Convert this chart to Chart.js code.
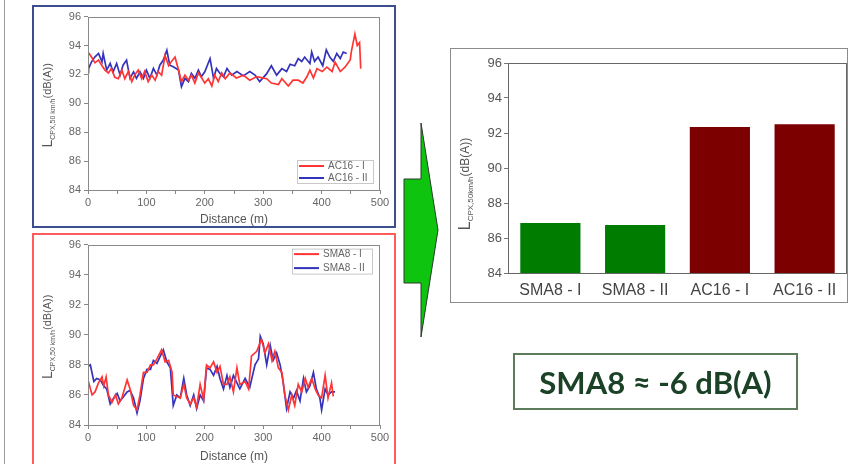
<!DOCTYPE html>
<html>
<head>
<meta charset="utf-8">
<script src="https://cdn.jsdelivr.net/npm/chart.js@4.4.0/dist/chart.umd.min.js"></script>
<style>
  html, body { margin: 0; padding: 0; background: #fff; overflow: hidden; }
  body { width: 859px; height: 464px; position: relative; font-family: Arial, "Liberation Sans", sans-serif; }
  .abs { position: absolute; box-sizing: border-box; }
  canvas { position: absolute; }
</style>
</head>
<body>
<div class="abs" style="left:4px;top:0;width:1px;height:464px;background:#9a9a9a"></div>

<canvas id="acChart" width="360" height="220" style="left:34px;top:7px"></canvas>
<canvas id="smaChart" width="360" height="229" style="left:34px;top:235px"></canvas>
<canvas id="barChart" width="398" height="253" style="left:451px;top:49px"></canvas>

<div class="abs" style="left:32px;top:5px;width:364px;height:223px;border:2px solid #3d4e8e"></div>
<div class="abs" style="left:32px;top:233px;width:364px;height:250px;border:2px solid #ff5c5c"></div>
<div class="abs" style="left:450px;top:48px;width:398px;height:255px;border:1px solid #8c8c8c"></div>

<svg class="abs" style="left:0;top:0" width="859" height="464">
  <polygon points="404,179 421,179 421,123 438,230 421,337 421,283 404,283" fill="#0fc40f" stroke="#2a3a2a" stroke-width="1"></polygon>
</svg>

<div class="abs" style="left:513px;top:353px;width:285px;height:57px;border:2px solid #5c7c5c;display:flex;align-items:center;justify-content:center;font-family:Lato, 'Open Sans', sans-serif;font-weight:bold;font-size:31px;color:#1b4226">SMA8 ≈ -6 dB(A)</div>

<script>
// AC16 runs (top panel)
const acDist1 = [0, 6, 12, 18, 24, 29, 35, 40, 46, 52, 58, 63, 69, 75, 80, 86, 92, 97, 103, 109, 115, 120, 126, 132, 138, 143, 149, 155, 160, 166, 172, 177, 183, 189, 194, 200, 206, 212, 217, 223, 229, 235, 243, 254, 266, 277, 289, 306, 314, 326, 332, 343, 351, 360, 368, 375, 380, 386, 392, 401, 409, 418, 423, 432, 440, 449, 451, 457, 461, 465, 467]
const acLevel1 = [93.56, 93.2, 92.8, 93.0, 92.6, 92.3, 92.1, 92.4, 91.8, 91.7, 92.3, 91.7, 92.2, 91.5, 91.95, 92.3, 91.7, 92.2, 91.5, 91.95, 91.6, 92.2, 91.95, 93.3, 92.6, 92.9, 93.2, 92.3, 91.5, 91.95, 91.6, 91.95, 91.4, 92.1, 91.8, 91.4, 91.7, 91.2, 91.95, 91.5, 92.1, 91.7, 92.1, 91.75, 91.95, 91.6, 91.85, 91.7, 91.4, 91.3, 91.7, 91.2, 91.6, 91.6, 91.4, 91.85, 92.3, 91.75, 92.4, 92.2, 92.5, 92.2, 92.85, 92.2, 92.5, 93.0, 93.6, 94.8, 94.0, 94.2, 92.4]
const acDist2 = [0, 1, 6, 12, 18, 24, 26, 32, 38, 43, 49, 55, 60, 66, 72, 78, 83, 89, 95, 100, 106, 112, 118, 123, 129, 135, 140, 146, 155, 160, 166, 172, 177, 183, 189, 194, 200, 209, 215, 220, 226, 232, 238, 246, 255, 266, 277, 286, 294, 306, 314, 323, 332, 340, 346, 354, 360, 366, 371, 380, 383, 388, 394, 402, 408, 414, 420, 426, 432, 437, 443]
const acLevel2 = [92.53, 92.41, 92.87, 93.22, 93.45, 92.87, 93.45, 92.3, 92.76, 92.18, 92.76, 91.95, 92.64, 92.99, 91.73, 92.18, 91.73, 92.18, 91.73, 92.3, 91.73, 92.41, 91.95, 92.64, 92.99, 93.67, 92.64, 92.53, 92.3, 91.15, 91.73, 91.5, 92.07, 91.73, 92.3, 91.84, 92.18, 93.1, 91.73, 92.41, 92.07, 91.84, 92.41, 91.95, 92.2, 91.9, 92.2, 91.95, 91.5, 92.05, 92.6, 91.95, 92.4, 92.2, 92.7, 92.6, 93.1, 92.9, 93.2, 92.75, 93.55, 92.9, 93.2, 92.6, 93.7, 93.2, 92.9, 93.45, 93.1, 93.55, 93.45]

// SMA8 runs (bottom panel)
const smaDist1 = [0, 7, 12, 18, 24, 27, 31, 35, 41, 47, 52, 58, 67, 72, 78, 84, 89, 95, 101, 107, 112, 118, 126, 132, 138, 144, 146, 152, 158, 164, 169, 175, 181, 186, 192, 198, 203, 209, 215, 221, 226, 232, 238, 243, 249, 255, 260, 269, 275, 280, 289, 297, 303, 309, 315, 320, 326, 332, 337, 343, 349, 354, 360, 366, 372, 377, 383, 389, 394, 400, 406, 411, 417, 420]
const smaLevel1 = [87.0, 86.0, 86.2, 86.8, 87.2, 86.6, 87.2, 86.0, 85.5, 86.0, 85.4, 85.8, 87.0, 86.4, 85.3, 85.0, 86.0, 87.5, 87.5, 88.0, 88.0, 88.4, 89.0, 88.2, 88.3, 87.5, 86.0, 85.9, 85.8, 86.7, 85.8, 85.4, 85.8, 85.2, 86.7, 85.7, 88.0, 87.8, 88.2, 87.5, 87.9, 86.7, 86.7, 87.2, 86.2, 87.8, 86.7, 86.9, 86.4, 88.6, 88.9, 89.7, 88.8, 89.4, 88.3, 88.9, 87.8, 87.5, 86.0, 85.0, 86.0, 85.3, 86.7, 86.2, 87.1, 86.5, 87.1, 86.4, 86.0, 85.8, 87.3, 85.8, 86.8, 85.9]
const smaDist2 = [0, 4, 10, 15, 21, 27, 32, 38, 44, 50, 55, 61, 67, 72, 78, 84, 89, 95, 101, 107, 112, 118, 124, 129, 135, 141, 146, 152, 158, 164, 169, 175, 181, 186, 192, 198, 203, 209, 215, 221, 226, 232, 238, 243, 249, 255, 260, 269, 277, 286, 292, 295, 300, 306, 312, 317, 323, 329, 334, 340, 346, 352, 357, 363, 369, 374, 380, 386, 391, 397, 400, 406, 411, 417, 423]
const smaLevel2 = [87.9, 88.0, 86.9, 87.1, 87.0, 86.6, 86.4, 85.4, 85.8, 86.1, 85.6, 85.9, 86.2, 86.3, 85.8, 84.8, 85.6, 87.1, 87.7, 87.7, 88.3, 88.1, 88.6, 89.0, 88.2, 87.8, 85.3, 86.0, 85.8, 87.1, 86.0, 85.3, 86.0, 85.1, 86.0, 85.6, 87.8, 87.7, 87.3, 87.9, 87.1, 86.4, 87.3, 86.5, 87.3, 86.8, 86.4, 87.1, 86.5, 88.0, 88.4, 89.9, 89.4, 88.0, 89.3, 88.3, 88.8, 88.0, 86.9, 85.1, 86.2, 85.8, 86.3, 85.6, 87.1, 86.2, 86.6, 87.5, 86.4, 85.8, 85.0, 86.4, 86.0, 86.2, 86.2]

// mean levels (right panel)
const barLabels = ['SMA8 - I', 'SMA8 - II', 'AC16 - I', 'AC16 - II']
const barValues = [86.86, 86.74, 92.34, 92.5]
const barColors = ['#007c00', '#007c00', '#7c0000', '#7c0000']

const levelTicks = [84, 86, 88, 90, 92, 94, 96]

const toPoints = (xs, ys) => xs.map((x, i) => ({ x, y: ys[i] }))

// box around the plot area (Origin style)
const framePlugin = {
  id: 'frame',
  afterDraw(chart, args, o) {
    const { ctx, chartArea: a } = chart
    ctx.save()
    ctx.strokeStyle = o.color || '#888'
    ctx.lineWidth = 1
    ctx.strokeRect(Math.round(a.left) + 0.5, Math.round(a.top) + 0.5, Math.round(a.right - a.left) - 1, Math.round(a.bottom - a.top))
    ctx.restore()
  }
}

// rotated y title with subscript: L_sub(tail)
const yTitlePlugin = {
  id: 'yTitle',
  afterDraw(chart, args, o) {
    if (!o.main) return
    const { ctx, chartArea: a } = chart
    const s = o.size
    ctx.save()
    ctx.translate(o.x, (a.top + a.bottom) / 2 + (o.dy || 0))
    ctx.rotate(-Math.PI / 2)
    ctx.fillStyle = o.color || '#555'
    const fBig = s + 'px Arial', fSub = Math.round(s * 0.5) + 'px Arial', fTail = Math.round(s * 0.78) + 'px Arial'
    ctx.font = fBig; const w1 = ctx.measureText(o.main).width
    ctx.font = fSub; const w2 = ctx.measureText(o.sub).width
    ctx.font = fTail; const w3 = ctx.measureText(o.tail).width
    let x = -(w1 + w2 + w3) / 2
    const base = s * 0.36
    ctx.font = fBig; ctx.fillText(o.main, x, base); x += w1
    ctx.font = fSub; ctx.fillText(o.sub, x, base + s * 0.22); x += w2
    ctx.font = fTail; ctx.fillText(o.tail, x, base - s * 0.05)
    ctx.restore()
  }
}

// small boxed legend inside the plot area
const boxLegendPlugin = {
  id: 'boxLegend',
  afterDraw(chart, args, o) {
    if (!o.width) return
    const { ctx, chartArea: a } = chart
    const x = a.right - o.right - o.width
    const y = o.fromBottom ? a.bottom - o.bottom - o.height : a.top + o.top
    ctx.save()
    ctx.fillStyle = '#fff'
    ctx.fillRect(x, y, o.width, o.height)
    ctx.strokeStyle = '#c8c8c8'
    ctx.lineWidth = 1
    ctx.strokeRect(x + 0.5, y + 0.5, o.width, o.height)
    ctx.font = '10px Arial'
    ctx.textBaseline = 'middle'
    chart.data.datasets.forEach((d, i) => {
      const ry = y + o.rows[i]
      ctx.strokeStyle = d.borderColor
      ctx.lineWidth = 2
      ctx.beginPath(); ctx.moveTo(x + 2, ry); ctx.lineTo(x + 27, ry); ctx.stroke()
      ctx.fillStyle = '#666'
      ctx.fillText(d.label, x + 31, ry)
    })
    ctx.restore()
  }
}

Chart.register(framePlugin, yTitlePlugin, boxLegendPlugin)

function lineChart(id, sets, xMax, xHeight, legend) {
  return new Chart(document.getElementById(id), {
    type: 'line',
    data: {
      datasets: sets.map(s => ({
        label: s.label,
        data: s.data,
        borderColor: s.color,
        borderWidth: 1.7,
        pointRadius: 0,
        tension: 0
      }))
    },
    options: {
      responsive: false,
      animation: false,
      devicePixelRatio: 1,
      layout: { padding: { left: 0, top: 9, right: 14, bottom: 0 } },
      plugins: {
        legend: { display: false },
        tooltip: { enabled: false },
        frame: { color: '#8a8a8a' },
        yTitle: { x: 13, main: 'L', sub: 'CPX,50 km/h', tail: '(dB(A))', size: 14, color: '#555', dy: 2 },
        boxLegend: legend
      },
      scales: {
        x: {
          type: 'linear', min: 0, max: xMax,
          afterFit: s => { s.height = xHeight },
          border: { display: false },
          grid: { drawOnChartArea: false, drawTicks: true, tickLength: 4, color: '#888' },
          ticks: { stepSize: 50, padding: 2, color: '#666', font: { size: 11, family: 'Arial' }, maxRotation: 0,
            callback: v => (v % 100 === 0 ? v : '') },
          title: { display: true, text: 'Distance (m)', color: '#555', font: { size: 12, family: 'Arial' }, padding: 0 }
        },
        y: {
          min: 84, max: 96,
          afterFit: s => { s.width = 54 },
          border: { display: false },
          grid: { drawOnChartArea: false, drawTicks: true, tickLength: 4, color: '#888' },
          ticks: { stepSize: 1, padding: 3, color: '#666', font: { size: 11, family: 'Arial' },
            callback: v => (levelTicks.includes(v) ? v : '') }
        }
      }
    }
  })
}

lineChart('acChart', [
  { label: 'AC16 - I', data: toPoints(acDist1, acLevel1), color: '#ff3535' },
  { label: 'AC16 - II', data: toPoints(acDist2, acLevel2), color: '#3333bb' }
], 500, 37, { width: 76, height: 23, right: 7, bottom: 7, fromBottom: true, rows: [6, 18] })

lineChart('smaChart', [
  { label: 'SMA8 - I', data: toPoints(smaDist1, smaLevel1), color: '#ff3535' },
  { label: 'SMA8 - II', data: toPoints(smaDist2, smaLevel2), color: '#3333bb' }
], 500, 39, { width: 80, height: 25, right: 8, top: 4, fromBottom: false, rows: [5.5, 19.5] })

new Chart(document.getElementById('barChart'), {
  type: 'bar',
  data: {
    labels: barLabels,
    datasets: [{
      data: barValues,
      backgroundColor: barColors,
      borderWidth: 0,
      barPercentage: 0.71,
      categoryPercentage: 1
    }]
  },
  options: {
    responsive: false,
    animation: false,
    devicePixelRatio: 1,
    layout: { padding: { left: 0, top: 14, right: 2, bottom: 0 } },
    plugins: {
      legend: { display: false },
      tooltip: { enabled: false },
      frame: { color: '#666' },
      yTitle: { x: 13, main: 'L', sub: 'CPX,50km/h', tail: '(dB(A))', size: 16, color: '#555', dy: 16 },
      boxLegend: {}
    },
    scales: {
      x: {
        afterFit: s => { s.height = 29 },
        border: { display: false },
        grid: { display: false },
        ticks: { padding: 0, color: '#444', font: { size: 16, family: 'Arial' } }
      },
      y: {
        min: 84, max: 96,
        afterFit: s => { s.width = 57 },
        border: { display: false },
        grid: { drawOnChartArea: false, drawTicks: true, tickLength: 4, color: '#777' },
        ticks: { stepSize: 1, padding: 2, color: '#555', font: { size: 13, family: 'Arial' },
          callback: v => (levelTicks.includes(v) ? v : '') }
      }
    }
  }
})
</script>
</body>
</html>
